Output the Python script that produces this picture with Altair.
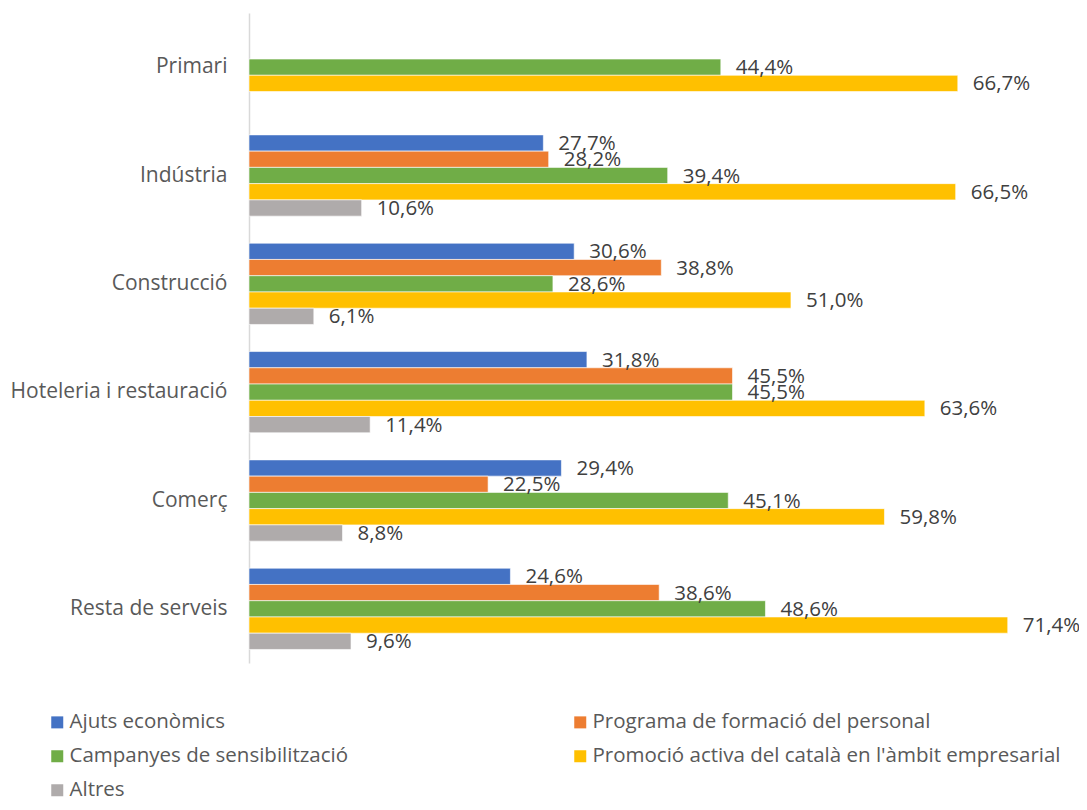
import altair as alt
import pandas as pd

categories = ["Primari", "Indústria", "Construcció", "Hoteleria i restauració", "Comerç", "Resta de serveis"]
series = ["Ajuts econòmics", "Programa de formació del personal", "Campanyes de sensibilització",
          "Promoció activa del català en l'àmbit empresarial", "Altres"]
colors = ["#4472C4", "#ED7D31", "#70AD47", "#FFC000", "#AFABAB"]

ajuts = [None, 27.7, 30.6, 31.8, 29.4, 24.6]
programa = [None, 28.2, 38.8, 45.5, 22.5, 38.6]
campanyes = [44.4, 39.4, 28.6, 45.5, 45.1, 48.6]
promocio = [66.7, 66.5, 51.0, 63.6, 59.8, 71.4]
altres = [None, 10.6, 6.1, 11.4, 8.8, 9.6]

rows = []
for s, vals in zip(series, [ajuts, programa, campanyes, promocio, altres]):
    for c, v in zip(categories, vals):
        if v is not None:
            rows.append({"cat": c, "serie": s, "value": v})
df = pd.DataFrame(rows)

# legend is laid out column by column: reorder so it reads row by row like the original
legend_order = [series[0], series[2], series[4], series[1], series[3]]
legend_colors = [colors[series.index(s)] for s in legend_order]

FONT = "Open Sans"

y = alt.Y("cat:N", sort=categories, title=None,
          scale=alt.Scale(paddingInner=0.25, paddingOuter=0.125),
          axis=alt.Axis(labelFont=FONT, labelFontSize=21, labelColor="#595959", labelLimit=400,
                        ticks=False, labelPadding=22, domainColor="#D9D9D9", domainWidth=1.5))
yoff = alt.YOffset("serie:N", sort=series, scale=alt.Scale(domain=series))
x = alt.X("value:Q", scale=alt.Scale(domain=[0, 75]), axis=None)

bars = alt.Chart(df).mark_bar(stroke="white", strokeWidth=0.6).encode(
    x=x, y=y, yOffset=yoff,
    color=alt.Color("serie:N",
                    scale=alt.Scale(domain=legend_order, range=legend_colors),
                    legend=alt.Legend(title=None, orient="none", legendX=-202, legendY=699,
                                      columns=2, columnPadding=221, rowPadding=13,
                                      symbolType="square", symbolSize=144, symbolStrokeWidth=0,
                                      labelFont=FONT, labelFontSize=20.5, labelColor="#595959",
                                      labelLimit=700, symbolOffset=0, labelOffset=2)),
)

labels = alt.Chart(df).transform_calculate(
    lab="replace(format(datum.value, '.1f'), '.', ',') + '%'"
).mark_text(align="left", baseline="middle", dx=15, dy=1, font=FONT, fontSize=20.5,
            color="#404040").encode(
    x=x, y=y, yOffset=yoff, text="lab:N"
)

chart = alt.layer(bars, labels).properties(
    width=797, height=650,
    autosize=alt.AutoSizeParams(type="none"),
    padding={"left": 241, "top": 5, "right": 33, "bottom": 139},
).configure_view(stroke=None)

chart.save("out.html", embed_options={"renderer": "svg", "actions": False})
